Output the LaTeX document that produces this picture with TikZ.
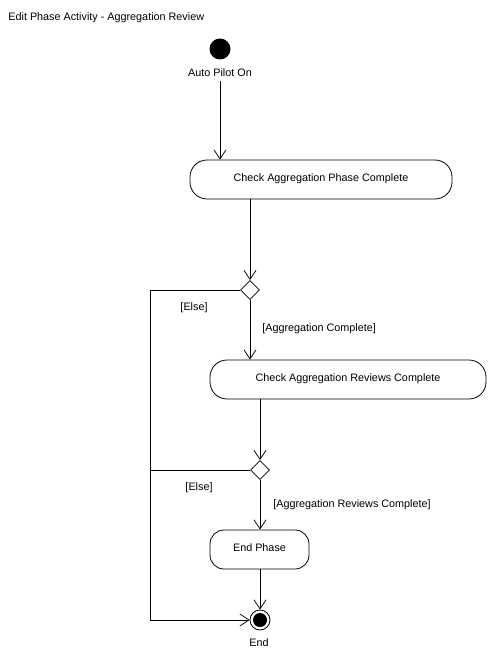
\documentclass[tikz,border=0pt]{standalone}
\usepackage{fontspec}
\setmainfont{Liberation Sans}
\usetikzlibrary{arrows.meta,shapes.geometric}
\tikzset{
  lbl/.style={inner sep=0pt,font=\fontsize{10.8}{12}\selectfont},
  act/.style={draw,rounded corners=17pt,inner sep=0pt,font=\fontsize{10.8}{12}\selectfont},
  dec/.style={draw,diamond,inner sep=0pt,minimum width=19pt,minimum height=19pt},
  arr/.style={-{Straight Barb[length=9pt,width=12pt]}},
  every path/.style={line width=0.8pt}
}
\begin{document}
\begin{tikzpicture}[x=1pt,y=-1pt]
\useasboundingbox (0,0) rectangle (498,660);
\node[lbl,anchor=west] (title) at (8,18) {Edit Phase Activity - Aggregation Review};
\node[circle,fill,inner sep=0pt,minimum size=21pt] (start) at (220,49) {};
\node[lbl] (startlbl) at (220,73) {Auto Pilot On};
\node[act,minimum width=262pt,minimum height=39pt] (a1) at (321,179.5) {\raisebox{3pt}{Check Aggregation Phase Complete}};
\node[dec] (d1) at (250,290) {};
\node[act,minimum width=276pt,minimum height=39pt] (a2) at (348,379.5) {\raisebox{3pt}{Check Aggregation Reviews Complete}};
\node[dec] (d2) at (260,470) {};
\node[act,rounded corners=14pt,minimum width=99pt,minimum height=39pt] (a3) at (259.5,549.5) {\raisebox{3pt}{End Phase}};
\node[circle,draw,inner sep=0pt,minimum size=20pt] (endc) at (260,620) {};
\fill (endc.center) circle (7pt);
\node[lbl] (endlbl) at (259,643) {End};
\node[lbl] (else1) at (194,308) {[Else]};
\node[lbl,anchor=west] (g1) at (262,329) {[Aggregation Complete]};
\node[lbl] (else2) at (199,488) {[Else]};
\node[lbl,anchor=west] (g2) at (273,505) {[Aggregation Reviews Complete]};
\coordinate (cl) at (150,620);
\draw[arr] (startlbl.south) ++(0,4) -- (startlbl.south |- a1.north);
\draw[arr] (a1.south -| d1) -- (d1.north);
\draw[arr] (d1.south) -- (d1.south |- a2.north);
\draw[arr] (a2.south -| d2) -- (d2.north);
\draw[arr] (d2.south) -- (d2.south |- a3.north);
\draw[arr] (a3.south -| endc) -- (endc.north);
\draw[arr] (d1.west) -- (d1.west -| cl) -- (cl) -- (endc.west);
\draw (d2.west) -- (d2.west -| cl);
\end{tikzpicture}
\end{document}
